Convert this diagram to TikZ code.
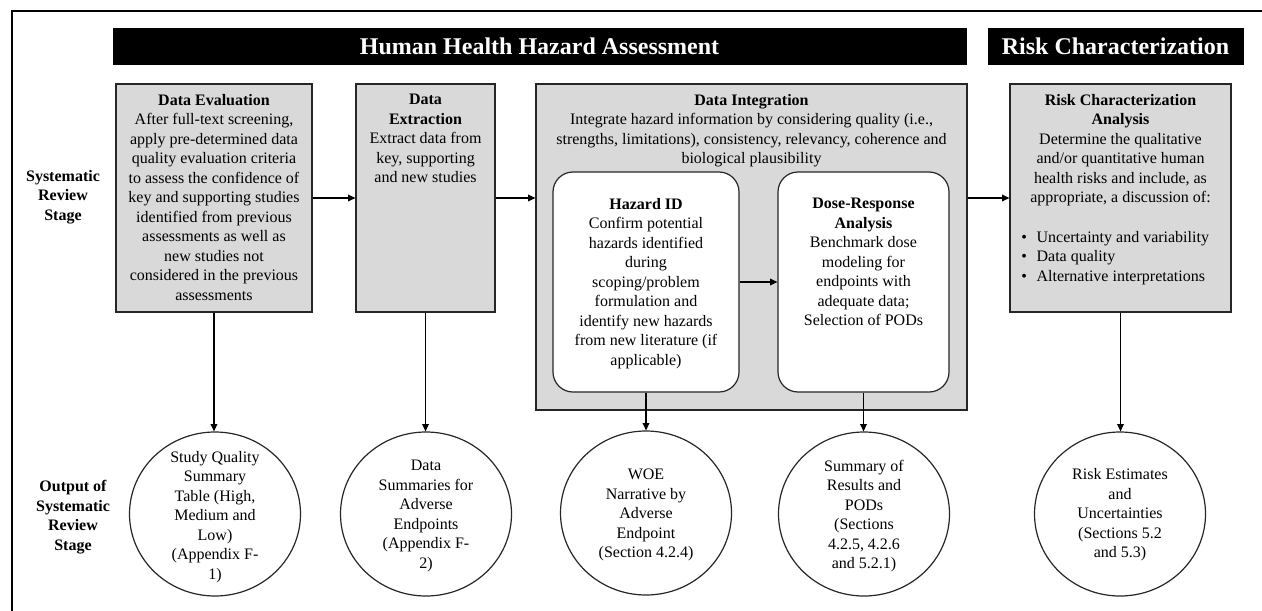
\documentclass[tikz,border=0pt]{standalone}
\usepackage{fontspec}
\setmainfont{Liberation Serif}
\usetikzlibrary{arrows.meta,shapes.geometric}
\definecolor{boxgray}{HTML}{D9D9D9}
\definecolor{edge}{HTML}{262626}
\tikzset{
  x=0.75pt, y=-0.75pt,
  banner/.style={fill=black, draw=black, text=white, inner sep=0pt,
    minimum height=27pt, font=\fontsize{18}{21}\selectfont\bfseries},
  graybox/.style={draw=edge, line width=0.9pt, fill=boxgray, inner sep=0pt},
  roundbox/.style={draw=edge, line width=0.9pt, fill=white, inner sep=0pt, rounded corners=15pt,
    minimum width=139.5pt, minimum height=165pt},
  outcircle/.style={ellipse, draw=edge, line width=0.9pt, fill=white, inner sep=0pt,
    minimum width=128.25pt, minimum height=123pt},
  txt/.style={align=center, inner sep=0pt, font=\fontsize{12}{14.6}\selectfont},
  sidelab/.style={align=center, inner sep=0pt, font=\fontsize{12}{14.6}\selectfont\bfseries},
  flow/.style={line width=0.9pt, draw=black, -{Triangle[length=5.5pt,width=5pt]}},
}
\begin{document}
\begin{tikzpicture}
\useasboundingbox (0,0) rectangle (1262,610);
% outer frame (left and top edges)
\draw[line width=1.3pt] (12,612) -- (12,11) -- (1264,11);

% banners
\node[banner, minimum width=639.75pt] (b1) at (539.5,46) {Human Health Hazard Assessment};
\node[banner, minimum width=191.25pt] (b2) at (1115.5,46) {Risk Characterization};

% side labels
\node[sidelab] (sl1) at (63,197) {Systematic\\Review\\Stage};
\node[sidelab] (sl2) at (73,517) {Output of\\Systematic\\Review\\Stage};

% boxes
\node[graybox, minimum width=147pt, minimum height=171pt] (de) at (214,198) {};
\node[graybox, minimum width=104.25pt, minimum height=171pt] (dx) at (425.5,198) {};
\node[graybox, minimum width=323.25pt, minimum height=244.5pt] (di) at (751.5,247) {};
\node[roundbox] (hz) at (646,282) {};
\node[roundbox, minimum width=128.25pt] (dr) at (863.5,282) {};
\node[graybox, minimum width=165.75pt, minimum height=171pt] (rc) at (1120.5,198) {};

% box texts
\node[txt, anchor=north] (de-t) at (214,94) {\textbf{Data Evaluation}\\After full-text screening,\\apply pre-determined data\\quality evaluation criteria\\to assess the confidence of\\key and supporting studies\\identified from previous\\assessments as well as\\new studies not\\considered in the previous\\assessments};
\node[txt, anchor=north] (dx-t) at (425.5,94) {\textbf{Data}\\\textbf{Extraction}\\Extract data from\\key, supporting\\and new studies};
\node[txt, anchor=north] (di-t) at (751.5,94) {\textbf{Data Integration}\\Integrate hazard information by considering quality (i.e.,\\strengths, limitations), consistency, relevancy, coherence and\\biological plausibility};
\node[txt, anchor=north] (hz-t) at (646,198) {\textbf{Hazard ID}\\Confirm potential\\hazards identified\\during\\scoping/problem\\formulation and\\identify new hazards\\from new literature (if\\applicable)};
\node[txt, anchor=north] (dr-t) at (863.5,198) {\textbf{Dose-Response}\\\textbf{Analysis}\\Benchmark dose\\modeling for\\endpoints with\\adequate data;\\Selection of PODs};
\node[txt, anchor=north] (rc-t) at (1120.5,94) {\textbf{Risk Characterization}\\\textbf{Analysis}\\Determine the qualitative\\and/or quantitative human\\health risks and include, as\\appropriate, a discussion of:};
\node[txt, anchor=north west, align=left] (rc-b) at (1021,231) {\makebox[11.5pt][l]{\textbullet}Uncertainty and variability\\\makebox[11.5pt][l]{\textbullet}Data quality\\\makebox[11.5pt][l]{\textbullet}Alternative interpretations};

% output circles
\node[outcircle] (c1) at (215,514) {};
\node[outcircle] (c2) at (426,514) {};
\node[outcircle] (c3) at (646,513) {};
\node[outcircle] (c4) at (864,514) {};
\node[outcircle] (c5) at (1120,514) {};
\node[txt] (c1-t) at (215,517) {Study Quality\\Summary\\Table (High,\\Medium and\\Low)\\(Appendix F-\\1)};
\node[txt] (c2-t) at (426,516) {Data\\Summaries for\\Adverse\\Endpoints\\(Appendix F-\\2)};
\node[txt] (c3-t) at (646,515) {WOE\\Narrative by\\Adverse\\Endpoint\\(Section 4.2.4)};
\node[txt] (c4-t) at (864,516) {Summary of\\Results and\\PODs\\(Sections\\4.2.5, 4.2.6\\and 5.2.1)};
\node[txt] (c5-t) at (1120,515) {Risk Estimates\\and\\Uncertainties\\(Sections 5.2\\and 5.3)};

% horizontal connectors
\draw[flow] (de.east) -- (dx.west);
\draw[flow] (dx.east) -- (dx.east -| di.west);
\draw[flow] (di.east |- rc.west) -- (rc.west);
\draw[flow] (hz.east) -- (dr.west);

% vertical connectors
\draw[flow] (de.south) -- (de.south |- c1.north);
\draw[flow] (dx.south) -- (dx.south |- c2.north);
\draw[flow] (hz.south) -- (hz.south |- c3.north);
\draw[flow] (dr.south) -- (dr.south |- c4.north);
\draw[flow] (rc.south) -- (rc.south |- c5.north);
\end{tikzpicture}
\end{document}
